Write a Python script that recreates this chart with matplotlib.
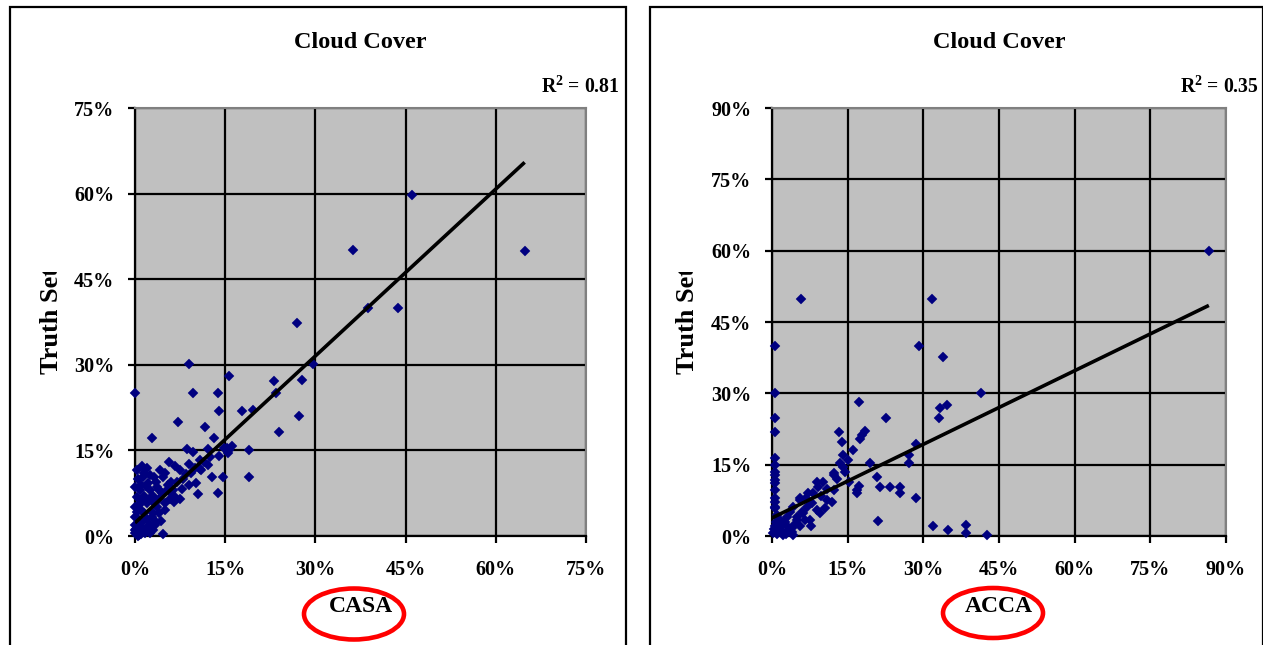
import matplotlib
matplotlib.use("Agg")
import matplotlib.pyplot as plt
from matplotlib.patches import Rectangle, Ellipse
from matplotlib.transforms import Bbox, TransformedBbox
from matplotlib.ticker import FuncFormatter, MultipleLocator

# ---------------- data (percent) ----------------
casa_x = [36.2, 46.0, 64.8, 38.8, 43.8, 26.9, 29.6, 27.8, 27.2, 23.1, 23.5, 23.9, 17.8, 19.6,
          18.9, 18.9, 8.9, 15.7, 0.0, 9.7, 13.8, 14.0, 2.8, 7.1, 11.7, 13.2, 8.6, 9.7, 12.1,
          15.3, 13.9, 10.8, 12.2, 1.1, 5.6, 6.7, 8.9, 7.5, 12.8, 14.6, 10.2, 10.5, 13.8, 4.7,
          2.5, 6.4, 5.0, 4.4, 4.6, 15.7, 15.5, 11.5, 9.3, 8.0, 10.0, 7.0, 6.0, 5.5, 3.0,
          0.0, 0.0, 0.0, 0.0, 0.0, 0.3, 0.5, 0.8, 1.0, 1.2, 1.5, 1.7, 2.0, 2.0, 2.0, 2.5,
          2.5, 3.0, 3.0, 3.6, 3.6, 1.4, 3.1, 0.8, 1.0, 1.5, 2.5, 1.0, 0.5, 1.5, 3.0, 4.0,
          4.5, 5.3, 6.7, 7.8, 6.0, 5.0, 2.0, 1.5, 0.5, 3.5, 4.0, 5.0, 3.5, 2.8, 1.8, 0.7,
          2.2, 4.2, 0.3, 9.0, 11.0, 6.5, 7.5, 4.0, 1.0, 0.2, 0.6, 1.3, 2.3, 3.3, 0.0, 0.4,
          1.8, 2.7, 5.8, 8.5, 10.8, 12.5, 14.8, 16.2]
casa_y = [50.1, 59.8, 50.0, 40.0, 40.0, 37.4, 30.1, 27.4, 21.1, 27.2, 25.0, 18.2, 21.9, 22.0,
          15.1, 10.3, 30.2, 28.0, 25.0, 25.0, 25.0, 21.9, 17.1, 20.0, 19.1, 17.1, 15.2, 14.8, 15.2,
          15.4, 14.1, 13.3, 12.4, 12.3, 12.9, 12.3, 12.7, 11.6, 10.3, 10.3, 9.3, 7.4, 7.5, 10.4,
          10.7, 8.1, 5.7, 2.7, 0.3, 15.0, 14.5, 13.0, 11.0, 10.0, 12.0, 9.5, 7.5, 9.0, 7.0,
          0.5, 1.0, 2.0, 3.4, 5.1, 6.9, 0.0, 1.6, 0.3, 2.5, 0.8, 0.5, 1.5, 3.0, 5.7, 0.5,
          2.0, 1.0, 4.0, 5.1, 8.6, 10.4, 10.3, 8.1, 9.0, 7.0, 8.0, 4.5, 3.0, 4.0, 6.0, 6.5,
          7.5, 8.1, 6.9, 8.3, 9.5, 11.0, 12.0, 11.0, 10.0, 9.5, 4.0, 4.5, 2.5, 3.3, 6.2, 5.5,
          9.2, 11.5, 11.5, 9.0, 11.5, 6.0, 6.5, 8.0, 6.0, 1.2, 0.2, 1.0, 1.0, 2.0, 8.5, 4.2,
          8.8, 6.8, 6.5, 10.8, 11.8, 13.8, 15.5, 15.8]

acca_x = [86.6, 5.7, 31.7, 0.6, 29.1, 33.9, 0.6, 41.5, 34.7, 33.4, 33.1, 0.6, 0.6, 17.2,
          22.6, 17.8, 18.5, 17.5, 13.2, 13.9, 16.0, 14.0, 19.5, 27.2, 28.6, 27.1, 20.8, 21.5,
          23.3, 25.4, 25.4, 28.6, 16.8, 17.2, 21.0, 32.0, 34.9, 38.5, 38.5, 42.7,
          0.6, 0.6, 0.6, 0.6, 0.6, 0.6, 0.6, 0.6, 0.6, 0.6, 0.6,
          12.2, 8.9, 7.2, 5.6, 11.9, 9.5, 6.6, 3.9, 13.5, 14.5, 15.2, 12.2, 10.2, 9.2, 8.2,
          5.6, 4.2, 2.9, 6.2, 8.9, 10.9, 16.8, 12.2, 0.6, 1.6, 3.6, 0.2, 2.2, 4.2, 5.6, 7.6,
          4.9, 2.2, 1.0, 1.5, 2.5, 3.0, 0.3, 0.8, 1.2, 1.8, 2.7, 3.3, 4.5, 5.0, 6.0, 7.0,
          8.0, 9.8, 11.0, 12.8, 14.0, 15.0, 6.8, 3.5, 1.4, 0.9, 2.0, 4.0, 7.8, 10.5]
acca_y = [60.0, 49.9, 49.9, 39.9, 39.9, 37.7, 30.1, 30.1, 27.5, 27.0, 24.9, 24.9, 21.9, 28.2,
          24.9, 21.2, 22.1, 20.5, 21.9, 19.8, 18.1, 17.0, 15.3, 17.0, 19.3, 15.3, 12.5, 10.4,
          10.4, 10.4, 9.0, 7.9, 9.0, 10.5, 3.2, 2.1, 1.3, 2.3, 0.7, 0.2,
          16.3, 13.5, 11.8, 11.1, 9.7, 7.9, 7.2, 5.8, 15.0, 12.8, 6.2,
          13.2, 11.4, 9.0, 7.9, 7.2, 4.8, 3.4, 1.6, 15.3, 13.5, 11.4, 12.8, 11.4, 10.4, 9.0,
          7.6, 6.2, 4.1, 4.8, 5.5, 7.6, 9.7, 9.7, 2.0, 1.3, 1.3, 0.6, 0.2, 0.2, 2.0, 3.4,
          3.4, 2.7, 0.5, 2.0, 3.0, 2.0, 1.5, 3.0, 1.0, 0.8, 0.5, 1.2, 2.5, 4.0, 5.0, 6.0,
          7.0, 8.5, 9.8, 12.0, 14.5, 16.0, 8.0, 5.0, 3.5, 4.5, 1.0, 0.8, 2.0, 5.8]

casa_fit = (0.975, 2.3)     # slope, intercept
acca_fit = (0.516, 3.8)
casa_r2 = "0.81"
acca_r2 = "0.35"
casa_max = 75
acca_max = 90
tick_step = 15

# ---------------- figure ----------------
W, H = 1263, 645
fig = plt.figure(figsize=(W / 100, H / 100), dpi=100)
FONT = "Liberation Serif"
GRAY = "#C0C0C0"
NAVY = "#000080"

plt.rcParams["mathtext.fontset"] = "custom"
plt.rcParams["mathtext.bf"] = "Liberation Serif:bold"
plt.rcParams["mathtext.rm"] = "Liberation Serif:bold"


def px(x0, y0, x1, y1):
    """pixel box (top-left origin) -> figure fraction rect"""
    return [x0 / W, 1 - y1 / H, (x1 - x0) / W, (y1 - y0) / H]


def panel(rect, xs, ys, fit, r2, vmax, xlabel, box, r2x, ell):
    ax = fig.add_axes(px(*rect))
    ax.set_facecolor(GRAY)
    ax.set_xlim(0, vmax)
    ax.set_ylim(0, vmax)
    ax.xaxis.set_major_locator(MultipleLocator(tick_step))
    ax.yaxis.set_major_locator(MultipleLocator(tick_step))
    fmt = FuncFormatter(lambda v, p: f"{v:.0f}%")
    ax.xaxis.set_major_formatter(fmt)
    ax.yaxis.set_major_formatter(fmt)
    ax.grid(True, color="black", lw=1.6)
    ax.set_axisbelow(True)
    for s in ("top", "right"):
        ax.spines[s].set_color("#808080")
        ax.spines[s].set_linewidth(1.5)
    for s in ("left", "bottom"):
        ax.spines[s].set_color("black")
        ax.spines[s].set_linewidth(1.6)
    ax.tick_params(direction="out", length=5, width=1.6, color="black")
    ax.tick_params(axis="x", pad=12)
    ax.tick_params(axis="y", pad=10)
    for lab in ax.get_xticklabels() + ax.get_yticklabels():
        lab.set_fontfamily(FONT)
        lab.set_fontweight("bold")
        lab.set_fontsize(14.5)
    ax.plot(xs, ys, ls="none", marker="D", ms=5.5, color=NAVY, mec=NAVY, mew=0.3,
            clip_on=False, zorder=3)
    m, b = fit
    xe = max(xs)
    ax.plot([0, xe], [b, m * xe + b], color="black", lw=2.6, zorder=4,
            solid_capstyle="butt")

    x0, y0, x1, y1 = rect
    cx = (x0 + x1) / 2
    # panel border box
    bx0, by0, bx1 = box
    fig.patches.append(Rectangle((bx0 / W, -0.1), (bx1 - bx0) / W, 1.1 - by0 / H,
                                 transform=fig.transFigure, fill=False,
                                 edgecolor="black", lw=1.6))
    fig.text(cx / W, 1 - 43 / H, "Cloud Cover", ha="center", va="center",
             family=FONT, weight="bold", fontsize=17.5)
    fig.text(r2x / W, 1 - 87 / H, "R$^{\\mathbf{2}}$ = " + r2, ha="right", va="center",
             family=FONT, weight="bold", fontsize=14.2)
    fig.text(cx / W, 1 - 607 / H, xlabel, ha="center", va="center",
             family=FONT, weight="bold", fontsize=17)
    ecx, ecy, ew, eh = ell
    fig.patches.append(Ellipse((ecx / W, 1 - ecy / H), ew / W, eh / H,
                               transform=fig.transFigure, fill=False,
                               edgecolor="#FF0000", lw=3.3))
    yl = fig.text((x0 - 84) / W, 1 - ((y0 + y1) / 2 - 2) / H, "Truth Set", rotation=90,
                  ha="center", va="center", family=FONT, weight="bold", fontsize=19)
    clip = TransformedBbox(Bbox([[0, 0], [1, 1 - 272 / H]]), fig.transFigure)
    yl.set_clip_box(clip)
    yl.set_clip_on(True)
    return ax


panel((135, 108, 586, 536), casa_x, casa_y, casa_fit, casa_r2, casa_max, "CASA",
      (10, 7, 626), 620, (354, 614, 100, 51))
panel((772, 108, 1226, 536), acca_x, acca_y, acca_fit, acca_r2, acca_max, "ACCA",
      (650, 7, 1263), 1259, (993, 613, 100, 50))

fig.savefig("out.png", dpi=100)
